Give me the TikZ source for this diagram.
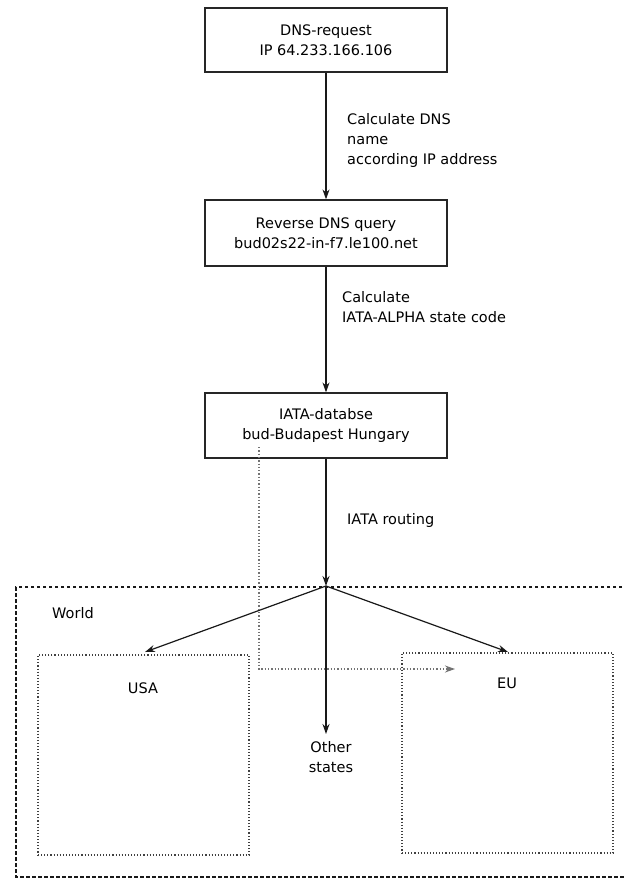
\documentclass[tikz,border=0pt]{standalone}
\usepackage{fontspec}
\setmainfont{DejaVu Sans}
\usetikzlibrary{arrows.meta}
\begin{document}
\begin{tikzpicture}[x=1pt,y=-1pt,
  every node/.style={font=\fontsize{14.5}{20}\selectfont, text=black},
  procbox/.style={draw=black!85, line width=1.2pt, minimum width=242pt, align=center, inner sep=0pt},
  lbl/.style={anchor=west, align=left, inner sep=0pt},
  flow/.style={draw=black!90, line width=1.2pt, -{Stealth[length=10pt,width=7pt]}},
  region/.style={draw=black!75, line width=1.1pt, dotted},
  worldline/.style={draw=black!90, line width=1.3pt, dash pattern=on 3.5pt off 2.5pt},
  trace/.style={draw=black!55, line width=1.3pt, dotted, -{Stealth[length=10pt,width=7pt]}}]
\useasboundingbox (0,0) rectangle (624,880);
\fill[white] (0,0) rectangle (624,880);

% boxes
\node[procbox, minimum height=64pt] (box1) at (326,40) {DNS-request\\IP 64.233.166.106};
\node[procbox, minimum height=66pt] (box2) at (326,233) {Reverse DNS query\\bud02s22-in-f7.le100.net};
\node[procbox, minimum height=65pt] (box3) at (326,425.5) {IATA-databse\\bud-Budapest Hungary};

% world region
\begin{scope}
\clip (0,0) rectangle (624,880);
\draw[worldline] (640,587) -- (16,587) -- (16,877) -- (640,877);
\end{scope}
\node[lbl] (world) at (52,613) {World};

% sub regions
\node[region, minimum width=211pt, minimum height=200pt, inner sep=0pt] (usa) at (143.5,755) {};
\node[region, minimum width=211pt, minimum height=200pt, inner sep=0pt] (eu) at (507.5,753) {};
\node (usalbl) at (143,688) {USA};
\node (eulbl) at (507,683) {EU};
\node[align=center, inner sep=0pt] (other) at (331,757) {Other\\states};

\coordinate (junc) at (326,586);
\coordinate (usatop) at (145,652);
\coordinate (eutop) at (508,652);
\coordinate (othertip) at (326,734);

% flow
\draw[flow] (box1) -- (box2);
\draw[flow] (box2) -- (box3);
\draw[flow] (box3) -- (junc);
\draw[flow] (junc) -- (usatop);
\draw[flow] (junc) -- (eutop);
\draw[flow] (junc) -- (othertip);

% trace
\coordinate (tstart) at (259,447);
\coordinate (tcorner) at (259,669);
\coordinate (tend) at (455,669);
\draw[trace] (tstart) -- (tcorner) -- (tend);

% labels
\node[lbl] (l1) at (347,140) {Calculate DNS\\name\\according IP address};
\node[lbl] (l2) at (342,307.5) {Calculate\\IATA-ALPHA state code};
\node[lbl] (l3) at (347,520) {IATA routing};
\end{tikzpicture}
\end{document}
